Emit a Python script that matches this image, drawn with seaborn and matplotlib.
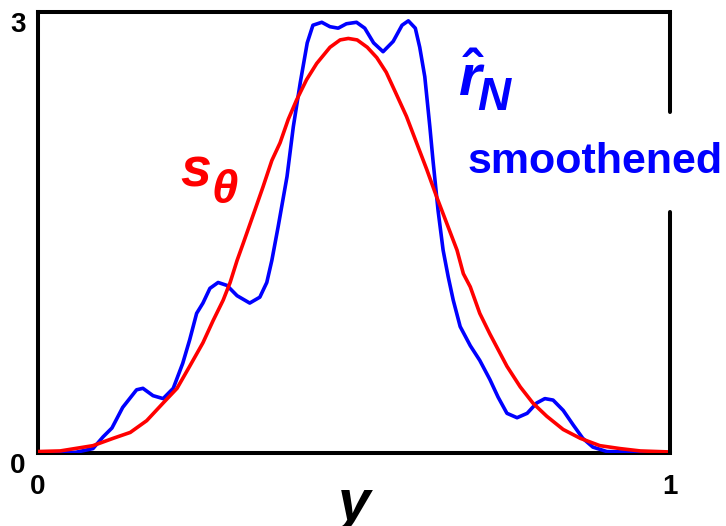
import matplotlib
matplotlib.use("Agg")
import matplotlib.pyplot as plt
import seaborn as sns
import pandas as pd

# Blue curve: smoothened estimate r_N
blue_x = [0.0, 0.035, 0.06, 0.087, 0.103, 0.117, 0.134, 0.156, 0.166, 0.182, 0.198,
          0.214, 0.229, 0.240, 0.251, 0.261, 0.272, 0.285, 0.299, 0.315, 0.335,
          0.351, 0.362, 0.370, 0.380, 0.394, 0.404, 0.415, 0.426, 0.435, 0.449,
          0.462, 0.475, 0.488, 0.504, 0.517, 0.531, 0.546, 0.562, 0.576, 0.586,
          0.597, 0.604, 0.612, 0.620, 0.625, 0.633, 0.641, 0.649, 0.657, 0.668,
          0.684, 0.699, 0.715, 0.728, 0.742, 0.758, 0.774, 0.789, 0.802, 0.815,
          0.831, 0.847, 0.862, 0.878, 0.900, 0.948, 1.0]
blue_y = [0.0, 0.0, 0.005, 0.03, 0.11, 0.17, 0.31, 0.43, 0.44, 0.39, 0.37,
          0.44, 0.61, 0.77, 0.95, 1.02, 1.12, 1.16, 1.14, 1.07, 1.02,
          1.06, 1.16, 1.31, 1.54, 1.88, 2.22, 2.52, 2.79, 2.91, 2.93,
          2.90, 2.89, 2.92, 2.93, 2.89, 2.79, 2.73, 2.80, 2.91, 2.94,
          2.89, 2.76, 2.56, 2.22, 1.99, 1.65, 1.38, 1.20, 1.04, 0.86,
          0.73, 0.63, 0.50, 0.38, 0.27, 0.24, 0.27, 0.34, 0.37, 0.36,
          0.29, 0.19, 0.10, 0.04, 0.01, 0.005, 0.0]

# Red curve: model density s_theta
red_x = [0.0, 0.035, 0.087, 0.119, 0.146, 0.172, 0.198, 0.220, 0.240, 0.261,
         0.277, 0.293, 0.304, 0.315, 0.325, 0.343, 0.356, 0.370, 0.383, 0.396,
         0.409, 0.425, 0.441, 0.462, 0.478, 0.491, 0.505, 0.521, 0.536, 0.551,
         0.566, 0.583, 0.599, 0.615, 0.631, 0.647, 0.663, 0.673, 0.684, 0.699,
         0.715, 0.742, 0.763, 0.783, 0.805, 0.831, 0.858, 0.889, 0.921, 0.953, 1.0]
red_y = [0.01, 0.014, 0.05, 0.10, 0.14, 0.22, 0.34, 0.44, 0.59, 0.75,
         0.90, 1.04, 1.16, 1.31, 1.43, 1.65, 1.81, 1.99, 2.11, 2.27,
         2.40, 2.54, 2.65, 2.76, 2.81, 2.82, 2.81, 2.76, 2.69, 2.59,
         2.45, 2.29, 2.11, 1.93, 1.74, 1.56, 1.38, 1.22, 1.13, 0.95,
         0.81, 0.59, 0.45, 0.34, 0.25, 0.16, 0.10, 0.05, 0.03, 0.014, 0.007]

x_ticks = [0, 1]
x_tick_labels = ["0", "1"]
y_ticks = [0, 3]
y_tick_labels = ["0", "3"]

sns.set_style("white")
plt.rcParams["font.family"] = ["Liberation Sans", "DejaVu Sans"]
plt.rcParams["font.weight"] = "bold"
plt.rcParams["text.color"] = "black"
plt.rcParams["xtick.color"] = "black"
plt.rcParams["ytick.color"] = "black"
plt.rcParams["mathtext.fontset"] = "custom"
plt.rcParams["mathtext.it"] = "Liberation Sans:italic:bold"
plt.rcParams["mathtext.rm"] = "Liberation Sans:bold"

BLUE = "#0000ff"
RED = "#ff0000"

fig = plt.figure(figsize=(7.26, 5.26), dpi=100)
ax = fig.add_axes([38 / 726, 73 / 526, 632 / 726, 441 / 526])

blue_df = pd.DataFrame({"y": blue_x, "density": blue_y})
red_df = pd.DataFrame({"y": red_x, "density": red_y})
line_kw = dict(estimator=None, sort=False, lw=2.6,
               solid_joinstyle="round", solid_capstyle="round")
sns.lineplot(data=blue_df, x="y", y="density", ax=ax, color=BLUE, zorder=3, **line_kw)
sns.lineplot(data=red_df, x="y", y="density", ax=ax, color=RED, zorder=4, **line_kw)

ax.set_xlim(0, 1)
ax.set_ylim(0, 3)
ax.set_xticks(x_ticks)
ax.set_xticklabels(x_tick_labels)
ax.set_yticks(y_ticks)
ax.set_yticklabels(y_tick_labels, va="top")
ax.tick_params(axis="both", length=0, labelsize=20, labelcolor="black")
ax.tick_params(axis="x", pad=15)
ax.tick_params(axis="y", pad=9)
for lab in ax.get_xticklabels() + ax.get_yticklabels():
    lab.set_fontweight("bold")

ax.set_xlabel("y", fontsize=42, fontstyle="italic", fontweight="bold",
              labelpad=-16, color="black")
ax.set_ylabel("")

# frame: right side is interrupted where the label sits
for side in ["left", "top", "bottom"]:
    ax.spines[side].set_linewidth(2.9)
    ax.spines[side].set_color("black")
ax.spines["right"].set_visible(False)
ax.axvline(1, 0, 0.546, color="black", lw=2.9, clip_on=False, zorder=5)
ax.axvline(1, 0.773, 1.0, color="black", lw=2.9, clip_on=False, zorder=5)

# curve labels
ax.text(0.225, 1.81, "s", color=RED, fontsize=40, fontstyle="italic",
        fontweight="bold", va="baseline", ha="left")
ax.text(0.275, 1.70, "θ", color=RED, fontsize=34, fontstyle="italic",
        fontweight="bold", va="baseline", ha="left")
ax.text(0.664, 2.43, r"$\hat{r}$", color=BLUE, fontsize=42,
        va="baseline", ha="left")
ax.text(0.695, 2.33, "N", color=BLUE, fontsize=33, fontstyle="italic",
        fontweight="bold", va="baseline", ha="left")
ax.text(0.679, 1.905, "smoothened", color=BLUE, fontsize=31,
        fontweight="bold", va="baseline", ha="left", clip_on=False)

fig.savefig("out.png", dpi=100)
